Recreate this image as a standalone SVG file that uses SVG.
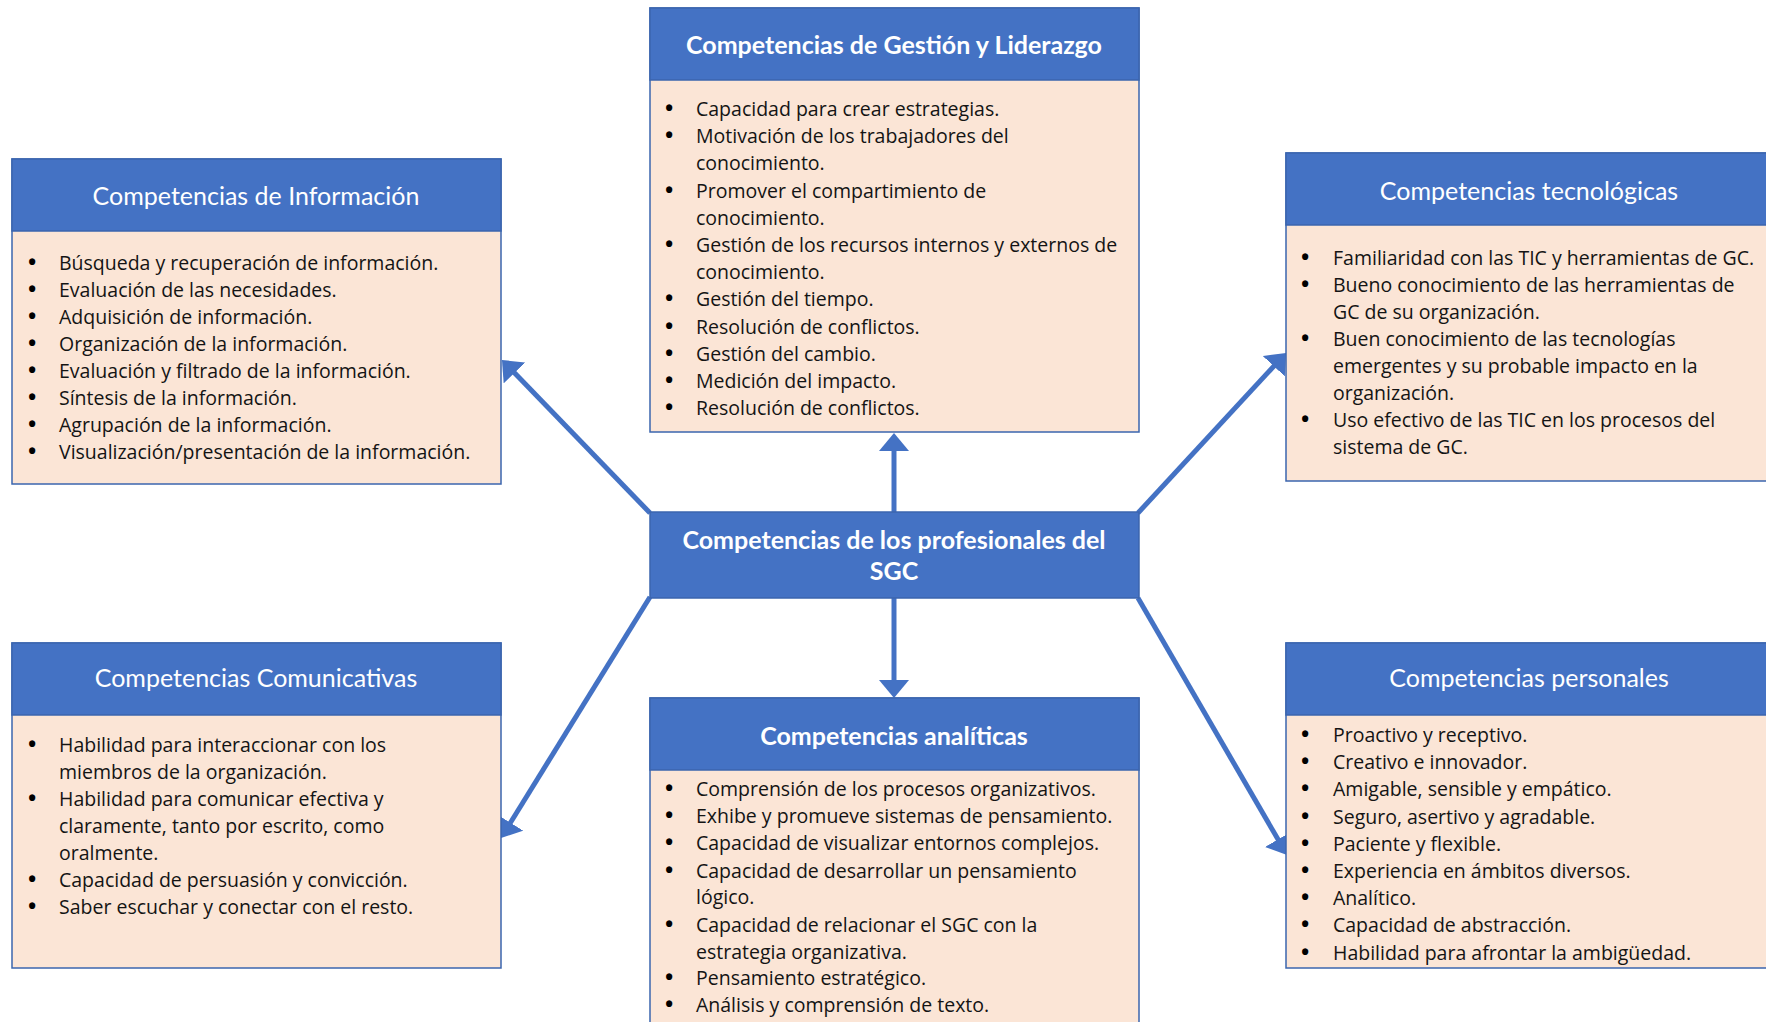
<svg xmlns="http://www.w3.org/2000/svg" width="1766" height="1022" viewBox="0 0 1766 1022">
  <defs>
    <style>
      .body { fill: #FBE5D6; stroke: #3B65AE; stroke-width: 1.5; }
      .head { fill: #4472C4; stroke: #3B65AE; stroke-width: 1.5; }
      .title { font-family: Lato, "Liberation Sans", sans-serif; font-size: 25px; fill: #FFFFFF; text-anchor: middle; }
      .bold { font-weight: bold; }
      .item { font-family: "Open Sans", "Liberation Sans", sans-serif; font-size: 19.5px; fill: #141414; }
      .dot { font-family: "Open Sans", "Liberation Sans", sans-serif; font-size: 22px; font-weight: bold; fill: #000000; }
      .conn { stroke: #4472C4; stroke-width: 5; fill: none; marker-end: url(#arrow); }
    </style>
    <marker id="arrow" viewBox="0 0 18 30" refX="6" refY="15" markerWidth="18" markerHeight="30" markerUnits="userSpaceOnUse" orient="auto">
      <path d="M0,0 L18,15 L0,30 Z" fill="#4472C4"/>
    </marker>
  </defs>
  <rect width="1766" height="1022" fill="#FFFFFF"/>

  <!-- connectors from the central node -->
  <g id="connectors">
    <line class="conn" x1="894" y1="512" x2="894" y2="445"/>
    <line class="conn" x1="894" y1="598" x2="894" y2="686"/>
    <line class="conn" x1="650" y1="513" x2="510.3" y2="368.6"/>
    <line class="conn" x1="1138" y1="513" x2="1277.9" y2="361.8"/>
    <line class="conn" x1="650" y1="597" x2="507.3" y2="827.8"/>
    <line class="conn" x1="1138" y1="598" x2="1281" y2="844.6"/>
  </g>

  <!-- central node -->
  <g id="node-center">
    <rect class="head" x="650" y="512" width="489" height="86"/>
    <text class="title bold" x="894" y="548.5">Competencias de los profesionales del</text>
    <text class="title bold" x="894" y="579.5">SGC</text>
  </g>

  <!-- top: management and leadership -->
  <g id="node-gestion">
    <rect class="body" x="650" y="8" width="489" height="424"/>
    <rect class="head" x="650" y="8" width="489" height="72"/>
    <text class="title bold" x="894" y="54">Competencias de Gestión y Liderazgo</text>
    <g class="dot">
      <text x="665" y="115.5">•</text><text x="665" y="142.5">•</text><text x="665" y="197.5">•</text>
      <text x="665" y="251.5">•</text><text x="665" y="305.5">•</text><text x="665" y="333.5">•</text>
      <text x="665" y="360.5">•</text><text x="665" y="387.5">•</text><text x="665" y="414.5">•</text>
    </g>
    <g class="item">
      <text x="696" y="115.5">Capacidad para crear estrategias.</text>
      <text x="696" y="142.5">Motivación de los trabajadores del</text>
      <text x="696" y="169.5">conocimiento.</text>
      <text x="696" y="197.5">Promover el compartimiento de</text>
      <text x="696" y="224.5">conocimiento.</text>
      <text x="696" y="251.5">Gestión de los recursos internos y externos de</text>
      <text x="696" y="278.5">conocimiento.</text>
      <text x="696" y="305.5">Gestión del tiempo.</text>
      <text x="696" y="333.5">Resolución de conflictos.</text>
      <text x="696" y="360.5">Gestión del cambio.</text>
      <text x="696" y="387.5">Medición del impacto.</text>
      <text x="696" y="414.5">Resolución de conflictos.</text>
    </g>
  </g>

  <!-- left top: information -->
  <g id="node-informacion">
    <rect class="body" x="12" y="159" width="489" height="325"/>
    <rect class="head" x="12" y="159" width="489" height="72"/>
    <text class="title" x="256" y="204.5">Competencias de Información</text>
    <g class="dot">
      <text x="28" y="269.5">•</text><text x="28" y="296.5">•</text><text x="28" y="323.5">•</text>
      <text x="28" y="350.5">•</text><text x="28" y="377.5">•</text><text x="28" y="404.5">•</text>
      <text x="28" y="431.5">•</text><text x="28" y="458.5">•</text>
    </g>
    <g class="item">
      <text x="59" y="269.5">Búsqueda y recuperación de información.</text>
      <text x="59" y="296.5">Evaluación de las necesidades.</text>
      <text x="59" y="323.5">Adquisición de información.</text>
      <text x="59" y="350.5">Organización de la información.</text>
      <text x="59" y="377.5">Evaluación y filtrado de la información.</text>
      <text x="59" y="404.5">Síntesis de la información.</text>
      <text x="59" y="431.5">Agrupación de la información.</text>
      <text x="59" y="458.5">Visualización/presentación de la información.</text>
    </g>
  </g>

  <!-- right top: technology -->
  <g id="node-tecnologicas">
    <rect class="body" x="1286" y="153" width="489" height="328"/>
    <rect class="head" x="1286" y="153" width="489" height="72"/>
    <text class="title" x="1529" y="199.5">Competencias tecnológicas</text>
    <g class="dot">
      <text x="1301" y="264.5">•</text><text x="1301" y="291.5">•</text>
      <text x="1301" y="345.5">•</text><text x="1301" y="426.5">•</text>
    </g>
    <g class="item">
      <text x="1333" y="264.5">Familiaridad con las TIC y herramientas de GC.</text>
      <text x="1333" y="291.5">Bueno conocimiento de las herramientas de</text>
      <text x="1333" y="318.5">GC de su organización.</text>
      <text x="1333" y="345.5">Buen conocimiento de las tecnologías</text>
      <text x="1333" y="372.5">emergentes y su probable impacto en la</text>
      <text x="1333" y="399.5">organización.</text>
      <text x="1333" y="426.5">Uso efectivo de las TIC en los procesos del</text>
      <text x="1333" y="453.5">sistema de GC.</text>
    </g>
  </g>

  <!-- bottom: analytical -->
  <g id="node-analiticas">
    <rect class="body" x="650" y="698" width="489" height="340"/>
    <rect class="head" x="650" y="698" width="489" height="72"/>
    <text class="title bold" x="894" y="744.5">Competencias analíticas</text>
    <g class="dot">
      <text x="665" y="795.5">•</text><text x="665" y="822.5">•</text><text x="665" y="849.5">•</text>
      <text x="665" y="877.5">•</text><text x="665" y="931.5">•</text><text x="665" y="984.5">•</text>
      <text x="665" y="1011.5">•</text>
    </g>
    <g class="item">
      <text x="696" y="795.5">Comprensión de los procesos organizativos.</text>
      <text x="696" y="822.5">Exhibe y promueve sistemas de pensamiento.</text>
      <text x="696" y="849.5">Capacidad de visualizar entornos complejos.</text>
      <text x="696" y="877.5">Capacidad de desarrollar un pensamiento</text>
      <text x="696" y="903.5">lógico.</text>
      <text x="696" y="931.5">Capacidad de relacionar el SGC con la</text>
      <text x="696" y="958.5">estrategia organizativa.</text>
      <text x="696" y="984.5">Pensamiento estratégico.</text>
      <text x="696" y="1011.5">Análisis y comprensión de texto.</text>
    </g>
  </g>

  <!-- left bottom: communication -->
  <g id="node-comunicativas">
    <rect class="body" x="12" y="643" width="489" height="325"/>
    <rect class="head" x="12" y="643" width="489" height="72"/>
    <text class="title" x="256" y="686.5">Competencias Comunicativas</text>
    <g class="dot">
      <text x="28" y="751.5">•</text><text x="28" y="805.5">•</text>
      <text x="28" y="886.5">•</text><text x="28" y="913.5">•</text>
    </g>
    <g class="item">
      <text x="59" y="751.5">Habilidad para interaccionar con los</text>
      <text x="59" y="778.5">miembros de la organización.</text>
      <text x="59" y="805.5">Habilidad para comunicar efectiva y</text>
      <text x="59" y="832.5">claramente, tanto por escrito, como</text>
      <text x="59" y="859.5">oralmente.</text>
      <text x="59" y="886.5">Capacidad de persuasión y convicción.</text>
      <text x="59" y="913.5">Saber escuchar y conectar con el resto.</text>
    </g>
  </g>

  <!-- right bottom: personal -->
  <g id="node-personales">
    <rect class="body" x="1286" y="643" width="489" height="325"/>
    <rect class="head" x="1286" y="643" width="489" height="72"/>
    <text class="title" x="1529" y="686.5">Competencias personales</text>
    <g class="dot">
      <text x="1301" y="741.5">•</text><text x="1301" y="768.5">•</text><text x="1301" y="795.5">•</text>
      <text x="1301" y="823.5">•</text><text x="1301" y="850.5">•</text><text x="1301" y="877.5">•</text>
      <text x="1301" y="904.5">•</text><text x="1301" y="931.5">•</text><text x="1301" y="959.5">•</text>
    </g>
    <g class="item">
      <text x="1333" y="741.5">Proactivo y receptivo.</text>
      <text x="1333" y="768.5">Creativo e innovador.</text>
      <text x="1333" y="795.5">Amigable, sensible y empático.</text>
      <text x="1333" y="823.5">Seguro, asertivo y agradable.</text>
      <text x="1333" y="850.5">Paciente y flexible.</text>
      <text x="1333" y="877.5">Experiencia en ámbitos diversos.</text>
      <text x="1333" y="904.5">Analítico.</text>
      <text x="1333" y="931.5">Capacidad de abstracción.</text>
      <text x="1333" y="959.5">Habilidad para afrontar la ambigüedad.</text>
    </g>
  </g>
</svg>
